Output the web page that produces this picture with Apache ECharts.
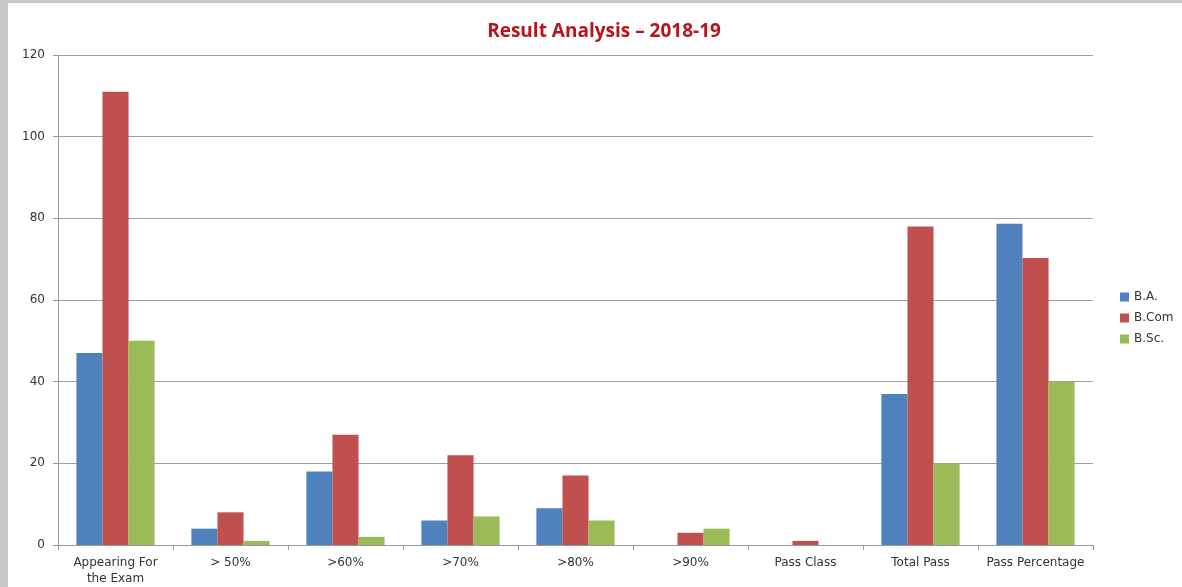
<!DOCTYPE html>
<html>
<head>
<meta charset="utf-8">
<script src="https://cdn.jsdelivr.net/npm/echarts@6/dist/echarts.min.js"></script>
<style>
html,body{margin:0;padding:0;background:#fff;}
#frame{position:absolute;left:0;top:0;width:1182px;height:587px;box-sizing:border-box;border-left:8px solid #c8c8c8;border-top:3px solid #c8c8c8;}
#chart{position:absolute;left:0;top:0;width:1182px;height:587px;}
</style>
</head>
<body>
<div id="frame"></div>
<div id="chart"></div>
<script>
var categories = ['Appearing For\nthe Exam', '> 50%', '>60%', '>70%', '>80%', '>90%', 'Pass Class', 'Total Pass', 'Pass Percentage'];
var seriesNames = ['B.A.', 'B.Com', 'B.Sc.'];
var baValues = [47, 4, 18, 6, 9, 0, 0, 37, 78.7];
var bcomValues = [111, 8, 27, 22, 17, 3, 1, 78, 70.3];
var bscValues = [50, 1, 2, 7, 6, 4, 0, 20, 40];
var yTicks = [0, 20, 40, 60, 80, 100, 120];
var colors = ['#4F81BD', '#C0504D', '#9BBB59'];

var chart = echarts.init(document.getElementById('chart'));
var font = 'DejaVu Sans';
chart.setOption({
  animation: false,
  title: {
    text: 'Result Analysis \u2013 2018-19',
    left: 599, textAlign: 'center', top: 17,
    textStyle: {color: '#B8141C', fontSize: 19, fontWeight: 'bold', fontFamily: 'Open Sans'}
  },
  legend: {
    orient: 'vertical', left: 1115, top: 286,
    itemWidth: 9, itemHeight: 9, itemGap: 9,
    icon: 'rect',
    textStyle: {fontSize: 12, color: '#333', fontFamily: font},
    data: seriesNames
  },
  grid: {left: 58, right: 89, top: 55, bottom: 41, containLabel: false},
  xAxis: {
    type: 'category', data: categories,
    axisLine: {lineStyle: {color: '#999'}},
    axisTick: {show: true, alignWithLabel: false, length: 5, lineStyle: {color: '#999'}},
    axisLabel: {fontSize: 12, color: '#333', fontFamily: font, interval: 0, margin: 10, lineHeight: 16}
  },
  yAxis: {
    type: 'value', min: yTicks[0], max: yTicks[yTicks.length - 1], interval: 20,
    axisLine: {show: true, lineStyle: {color: '#999'}},
    axisTick: {show: true, length: 5, lineStyle: {color: '#999'}},
    splitLine: {lineStyle: {color: '#a0a0a0'}},
    axisLabel: {fontSize: 12, color: '#333', fontFamily: font, margin: 13}
  },
  series: [
    {name: seriesNames[0], type: 'bar', data: baValues, barGap: '0%', barCategoryGap: '32%', itemStyle: {color: colors[0]}},
    {name: seriesNames[1], type: 'bar', data: bcomValues, barGap: '0%', barCategoryGap: '32%', itemStyle: {color: colors[1]}},
    {name: seriesNames[2], type: 'bar', data: bscValues, barGap: '0%', barCategoryGap: '32%', itemStyle: {color: colors[2]}}
  ]
});
</script>
</body>
</html>
